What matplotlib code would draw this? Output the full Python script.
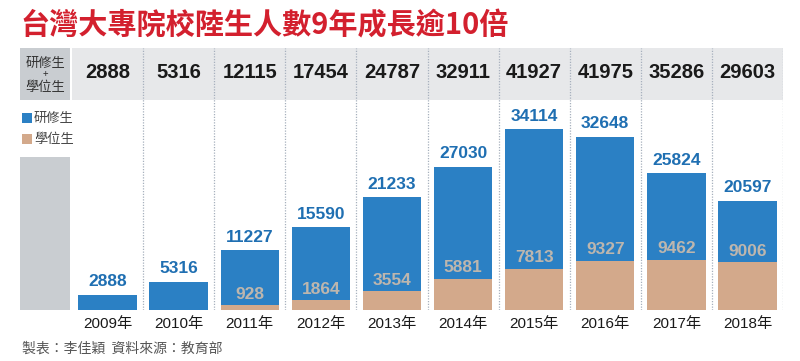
import matplotlib
matplotlib.use("Agg")
import matplotlib.pyplot as plt
from matplotlib.patches import Rectangle

years = ["2009年", "2010年", "2011年", "2012年", "2013年", "2014年", "2015年", "2016年", "2017年", "2018年"]
exchange = [2888, 5316, 11227, 15590, 21233, 27030, 34114, 32648, 25824, 20597]   # 研修生
degree = [0, 0, 928, 1864, 3554, 5881, 7813, 9327, 9462, 9006]                    # 學位生
totals = [2888, 5316, 12115, 17454, 24787, 32911, 41927, 41975, 35286, 29603]     # 研修生+學位生

title = "台灣大專院校陸生人數9年成長逾10倍"
footer = "製表：李佳穎  資料來源：教育部"

BLUE = "#2b80c4"
TAN = "#d3a98b"
RED = "#d3202e"
BAND = "#e7e8ea"
CELL = "#c9cdd1"
SEP = "#a7b0bd"

CJK = ["Noto Sans CJK TC", "DejaVu Sans"]
NUM = ["Liberation Sans", "Noto Sans CJK TC", "DejaVu Sans"]

W, H = 800, 361
fig = plt.figure(figsize=(8, 3.61), dpi=100)
fig.patch.set_facecolor("white")


def fx(px):
    return px / W


def fy(py):
    return 1 - py / H


# main axes: bars region + band on top
ax_left, ax_right, ax_bottom, ax_top = 72, 783, 310, 48
ax = fig.add_axes([fx(ax_left), fy(ax_bottom), (ax_right - ax_left) / W, (ax_bottom - ax_top) / H])
ax.set_axis_off()
k = 0.0053  # px per unit
band_px = 100
ymax = (ax_bottom - ax_top) / k
ax.set_xlim(-0.5, len(years) - 0.5)
ax.set_ylim(0, ymax)
band_frac = (ax_bottom - band_px) / (ax_bottom - ax_top)

ax.add_patch(Rectangle((0, band_frac), 1, 1 - band_frac, transform=ax.transAxes,
                       facecolor=BAND, edgecolor="none", zorder=0))

x = list(range(len(years)))
ax.bar(x, exchange, width=0.82, color=BLUE, zorder=2)
ax.bar(x, degree, width=0.82, color=TAN, zorder=3)

for i in x:
    ax.axvline(i + 0.5, color=SEP, lw=0.9, ls=(0, (1, 1.2)), zorder=1)
    ax.text(i, ymax - (73 - ax_top) / k, f"{totals[i]}", ha="center", va="center",
            fontsize=14.5, fontweight="bold", color="#1a1a1a", family=NUM)
    ax.annotate(f"{exchange[i]}", (i, exchange[i]), xytext=(0, 4), textcoords="offset points",
                ha="center", va="bottom", fontsize=12.5, fontweight="bold", color="#1f6fb2",
                family=NUM, zorder=5)
    if degree[i] > 0:
        ax.annotate(f"{degree[i]}", (i, degree[i]), xytext=(0, 2.5), textcoords="offset points",
                    ha="center", va="bottom", fontsize=12.5, fontweight="bold", color="#bdb6ae",
                    family=NUM, zorder=5)
    ax.annotate(years[i], (i, 0), xytext=(0, -5), textcoords="offset points",
                ha="center", va="top", fontsize=11, color="#1a1a1a", family=NUM,
                annotation_clip=False)

# left label cell and gray column
fig.patches.append(Rectangle((fx(20), fy(100)), 50 / W, 52 / H, transform=fig.transFigure,
                             facecolor=CELL, edgecolor="none", zorder=0))
fig.patches.append(Rectangle((fx(20), fy(310)), 50 / W, 153 / H, transform=fig.transFigure,
                             facecolor=CELL, edgecolor="none", zorder=0))
fig.text(fx(45), fy(63), "研修生", ha="center", va="center", fontsize=9.5, color="#333333", family=CJK)
fig.text(fx(45), fy(74), "+", ha="center", va="center", fontsize=7, color="#333333", family=CJK)
fig.text(fx(45), fy(88), "學位生", ha="center", va="center", fontsize=9.5, color="#333333", family=CJK)

# legend
for py, col, lab in [(118, BLUE, "研修生"), (139, TAN, "學位生")]:
    fig.patches.append(Rectangle((fx(22), fy(py + 5)), 10 / W, 10 / H, transform=fig.transFigure,
                                 facecolor=col, edgecolor="none"))
    fig.text(fx(34), fy(py), lab, ha="left", va="center", fontsize=9.5, color="#444444", family=CJK)

# title and footer
fig.text(fx(20), fy(25), title, ha="left", va="center", fontsize=21, fontweight="black",
         color=RED, family=CJK)
fig.text(fx(22), fy(349), footer, ha="left", va="center", fontsize=10, color="#555555", family=CJK)

fig.savefig("out.png", dpi=100)
